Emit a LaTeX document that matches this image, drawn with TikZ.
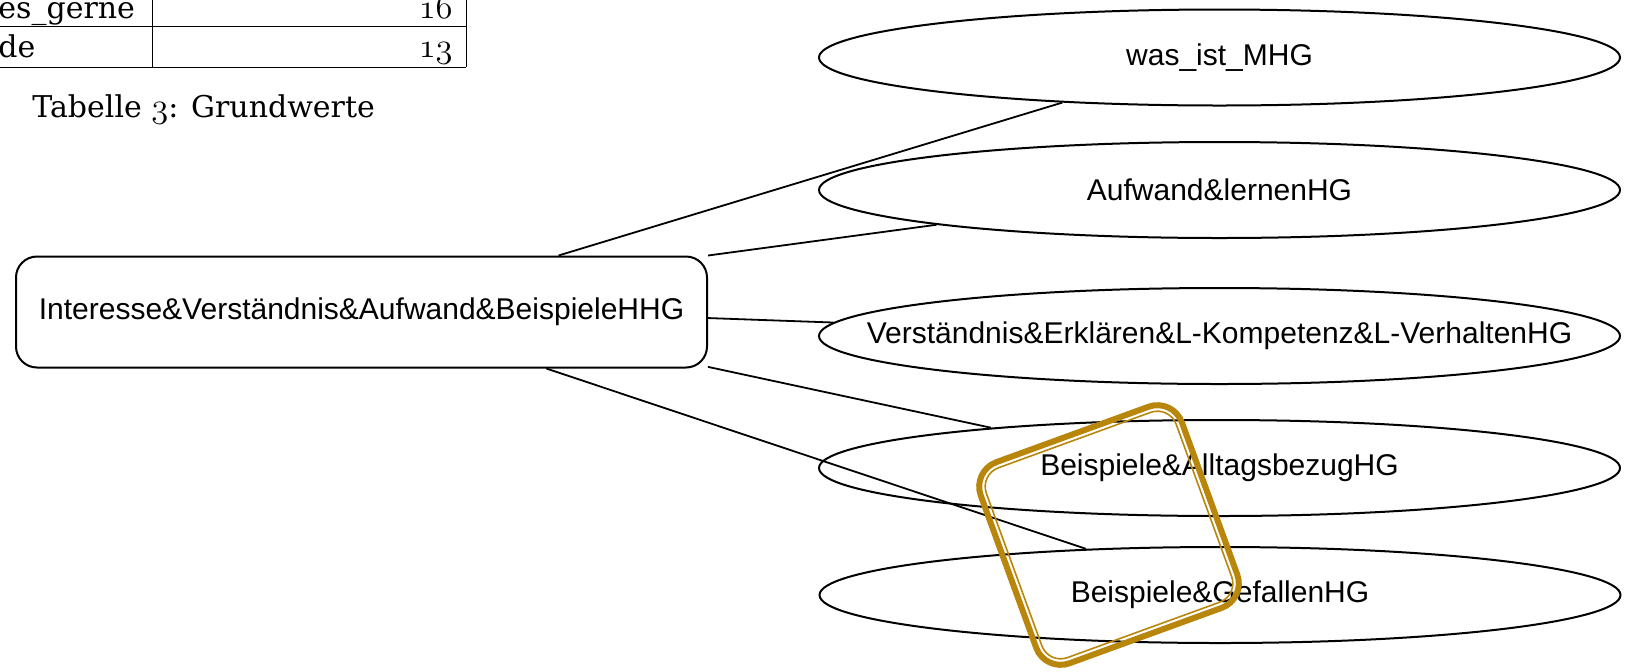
\documentclass[tikz,border=0pt]{standalone}
\usepackage{fontspec}
\usepackage{xcolor}
\usepackage{tikz}
\usetikzlibrary{shapes.geometric}
\usetikzlibrary{positioning}
\newfontfamily\arialfont{Liberation Sans}
\newfontfamily\tabfont{DejaVu Serif}
\definecolor{stampgold}{RGB}{184,134,11}
\newcommand\osnum[1]{{\fontsize{18.5}{20}\usefont{OML}{cmm}{m}{it}#1}}

\begin{document}
\begin{tikzpicture}[x=0.5pt,y=-0.5pt,
	hg/.style={ellipse,draw,line width=1pt,inner sep=0pt,minimum width=400.5pt,minimum height=48pt,font=\arialfont\fontsize{15}{18}\selectfont},
	hhg/.style={rectangle,draw,rounded corners=10.5pt,line width=1pt,inner sep=0pt,font=\arialfont\fontsize{15}{18}\selectfont},
	link/.style={line width=0.9pt},
	tabline/.style={line width=0.5pt},
	tabtext/.style={inner sep=0pt,font=\tabfont\fontsize{15}{18}\selectfont}]
	\useasboundingbox (0,0) rectangle (1626,671);

	% rest of the table
	\draw[tabline] (0,26) -- (466,26);
	\draw[tabline] (0,67) -- (466,67);
	\draw[tabline] (152,0) -- (152,67);
	\draw[tabline] (466,0) -- (466,67);
	\node[tabtext,anchor=base west] (row1) at (-2,18) {es\_gerne};
	\node[tabtext,anchor=base east] (val1) at (453,18) {\osnum{16}};
	\node[tabtext,anchor=base west] (row2) at (-2,57) {de};
	\node[tabtext,anchor=base east] (val2) at (453,57) {\osnum{13}};
	\node[tabtext,anchor=base west] (caption) at (32,117) {Tabelle \osnum{3}: Grundwerte};

	% main node
	\node[hhg,minimum width=345.5pt,minimum height=55.5pt] (hhg) at (361.5,312) {Interesse\&Verständnis\&Aufwand\&BeispieleHHG};

	% sub nodes
	\node[hg] (mhg) at (1219.5,57.5) {\makebox[0pt]{was\_ist\_MHG}};
	\node[hg] (aufwand) at (1219.5,190) {\makebox[0pt]{Aufwand\&lernenHG}};
	\node[hg] (verst) at (1219.5,336) {\makebox[0pt]{Verständnis\&Erklären\&L-Kompetenz\&L-VerhaltenHG}};
	\node[hg] (alltag) at (1219.5,468) {\makebox[0pt]{Beispiele\&AlltagsbezugHG}};
	\node[hg] (gefallen) at (1220,595) {\makebox[0pt]{Beispiele\&GefallenHG}};

	\draw[link] (hhg.16.2) -- (mhg.196.2);
	\draw[link] (hhg.north east) -- (aufwand.187.5);
	\draw[link] (hhg.-1.3) -- (verst.178.7);
	\draw[link] (hhg.-9.8) -- (alltag.170.4);
	\draw[link] (hhg.-17.7) -- (gefallen.161.8);

	% stamp
	\begin{scope}[shift={(1109,535)},rotate=20]
		\draw[stampgold,line width=3pt,rounded corners=13pt] (-107,-107) rectangle (107,107);
		\draw[stampgold,line width=0.8pt,rounded corners=10pt] (-101,-101) rectangle (101,101);
	\end{scope}
\end{tikzpicture}
\end{document}
